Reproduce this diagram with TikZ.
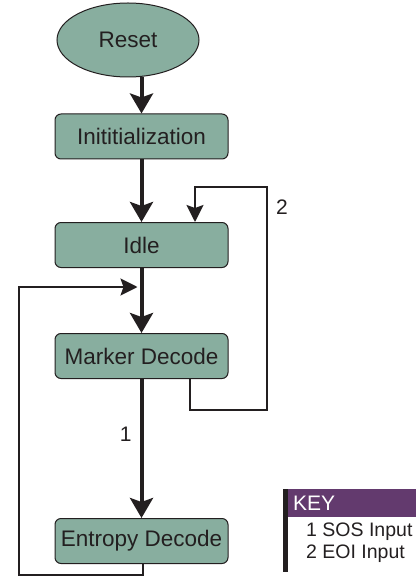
\documentclass[tikz,border=0pt]{standalone}
\usepackage{fontspec}
\setmainfont{Liberation Sans}
\usetikzlibrary{shapes.geometric,arrows.meta,calc}
\definecolor{statefill}{HTML}{88AE9F}
\definecolor{keypurple}{HTML}{633A6E}
\definecolor{inkgray}{HTML}{231F20}
\begin{document}
\begin{tikzpicture}[
		x=1pt, y=-1pt,
		state/.style={draw=inkgray, fill=statefill, rounded corners=6pt, line width=1pt,
			minimum width=173pt, minimum height=45pt, inner sep=0pt,
			text=inkgray, font=\fontsize{22.5}{26}\selectfont},
		startstate/.style={draw=inkgray, fill=statefill, ellipse, line width=1pt,
			minimum width=142pt, minimum height=74pt, inner sep=0pt,
			text=inkgray, font=\fontsize{22.5}{26}\selectfont},
		mainflow/.style={draw=inkgray, line width=4pt,
			-{Stealth[length=20pt,width=23pt,inset=4pt]}},
		backflow/.style={draw=inkgray, line width=2pt,
			-{Stealth[length=17pt,width=17pt,inset=3pt]}},
		lbl/.style={text=inkgray, font=\fontsize{21}{25}\selectfont, inner sep=0pt}
	]
	\useasboundingbox (0,0) rectangle (416,577);

	% States
	\node[startstate] (reset) at (128,40) {Reset};
	\node[state] (init) at (141.5,136.5) {Inititialization};
	\node[state] (idle) at (141.5,245) {Idle};
	\node[state] (marker) at (141.5,356) {Marker Decode};
	\node[state] (entropy) at (141.5,541) {Entropy Decode};

	% Main flow
	\draw[mainflow] (init.north |- reset.south) -- (init.north);
	\draw[mainflow] (init.south) -- (idle.north);
	\draw[mainflow] (idle.south) -- (marker.north);
	\draw[mainflow] (marker.south) -- (entropy.north)
		node[lbl, pos=0.4, left=8pt] (one) {1};

	% EOI loop
	\coordinate (eoicorner) at (267,187);
	\draw[backflow] ([xshift=48.5pt]marker.south) -- ++(0,31) -| (eoicorner)
		-| ([xshift=53.5pt]idle.north);
	\node[lbl] (two) at (282,207) {2};

	% SOS loop
	\coordinate (soscorner) at (19,287);
	\coordinate (sosjoin) at (idle.south |- soscorner);
	\draw[backflow] ([xshift=1pt]entropy.south) -- ++(0,11) -| (soscorner)
		-- ([xshift=-4pt]sosjoin);

	% Key
	\fill[inkgray] (283,489) rectangle (288,572);
	\fill[keypurple] (288,489) rectangle (416,517);
	\node[anchor=west, text=white, inner sep=0pt, font=\fontsize{21}{24}\selectfont] (keytitle) at (293,503) {KEY};
	\node[anchor=west, text=inkgray, inner sep=0pt, font=\fontsize{19.5}{23}\selectfont] (keysos) at (306,532) {1 SOS Input};
	\node[anchor=west, text=inkgray, inner sep=0pt, font=\fontsize{19.5}{23}\selectfont] (keyeoi) at (306,554) {2 EOI Input};
\end{tikzpicture}
\end{document}
